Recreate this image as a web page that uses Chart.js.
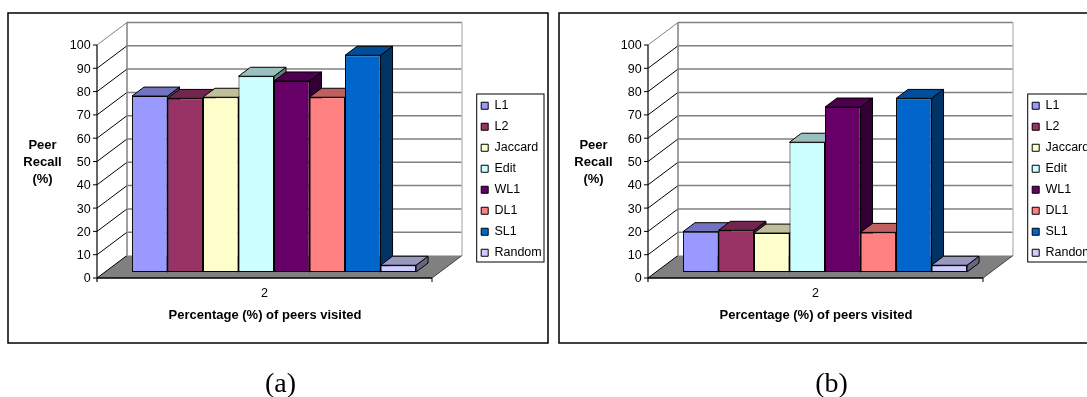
<!DOCTYPE html>
<html>
<head>
<meta charset="utf-8">
<script src="https://cdn.jsdelivr.net/npm/chart.js@4"></script>
<style>
  html, body { margin: 0; padding: 0; background: #fff; overflow: hidden; width: 1087px; height: 397px; }
  canvas { position: absolute; top: 0; }
  #panelA { left: 0; }
  #panelB { left: 551px; }
</style>
</head>
<body>
<canvas id="panelA" width="553" height="397"></canvas>
<canvas id="panelB" width="553" height="397"></canvas>
<script>
// Peer recall per distance measure at 2% of peers visited
const categories = ['2'];
const seriesNames = ['L1', 'L2', 'Jaccard', 'Edit', 'WL1', 'DL1', 'SL1', 'Random'];
const seriesColors = ['#9999FF', '#993366', '#FFFFCC', '#CCFFFF', '#660066', '#FF8080', '#0066CC', '#CCCCFF'];
const recallA = [75.5, 74.5, 75, 84, 82, 75, 93, 2.9];
const recallB = [17.3, 17.9, 16.7, 55.7, 70.8, 17, 74.5, 2.9];
const valueTicksStep = 10;
const xAxisTitle = 'Percentage (%) of peers visited';
const yAxisTitle = ['Peer', 'Recall', '(%)'];

// Oblique projection offsets, relative to the plane of the bar fronts
const FRONT = { dx: -9.5, dy: 6 };
const BACK = { dx: 20.5, dy: -16.5 };
const DEPTH = { dx: 12, dy: -9 };
const FONT = '"Liberation Sans", Arial, sans-serif';

function shade(hex, f) {
  const n = parseInt(hex.slice(1), 16);
  const c = s => Math.round(((n >> s) & 255) * f);
  return `rgb(${c(16)},${c(8)},${c(0)})`;
}

function line(ctx, x1, y1, x2, y2, color, width) {
  ctx.beginPath();
  ctx.moveTo(x1, y1);
  ctx.lineTo(x2, y2);
  ctx.strokeStyle = color;
  ctx.lineWidth = width;
  ctx.stroke();
}

function poly(ctx, pts, fill) {
  ctx.beginPath();
  pts.forEach((p, i) => (i ? ctx.lineTo(p[0], p[1]) : ctx.moveTo(p[0], p[1])));
  ctx.closePath();
  ctx.fillStyle = fill;
  ctx.fill();
  ctx.strokeStyle = '#000';
  ctx.lineWidth = 1;
  ctx.stroke();
}

const box3d = {
  id: 'box3d',
  afterLayout(chart) {
    // Legend sits in the right margin, away from the plot box
    const lg = chart.legend;
    const w = lg.right - lg.left;
    lg.left = 472.7;
    lg.right = lg.left + w;
    lg.top = 91;
    lg.bottom = 300;
  },
  beforeDraw(chart, args, opts) {
    const { ctx } = chart;
    ctx.save();
    ctx.fillStyle = '#fff';
    ctx.fillRect(0, 0, chart.width, chart.height);
    ctx.strokeStyle = '#000';
    ctx.lineWidth = 1.5;
    ctx.strokeRect(8, 13, 540, 330);
    ctx.lineWidth = 1;
    ctx.strokeRect(476.7, 94, 67.3, 168);

    // Axis and caption text
    ctx.fillStyle = '#000';
    ctx.textAlign = 'center';
    ctx.textBaseline = 'middle';
    ctx.font = 'bold 13px ' + FONT;
    ctx.fillText(xAxisTitle, 265, 315.5);
    yAxisTitle.forEach((t, i) => ctx.fillText(t, 42.5, 145.5 + i * 17));
    ctx.font = '28px "Liberation Serif", "Times New Roman", serif';
    ctx.fillText(opts.caption, 280.5, 384.5);
    ctx.restore();
  },
  beforeDatasetsDraw(chart) {
    const { ctx, chartArea: a, scales: { y } } = chart;
    const frontL = a.left + FRONT.dx, frontR = a.right + FRONT.dx;
    const backL = a.left + BACK.dx, backR = a.right + BACK.dx;
    const zero = y.getPixelForValue(0);
    ctx.save();

    // Floor
    ctx.beginPath();
    ctx.moveTo(frontL, zero + FRONT.dy);
    ctx.lineTo(backL, zero + BACK.dy);
    ctx.lineTo(backR, zero + BACK.dy);
    ctx.lineTo(frontR, zero + FRONT.dy);
    ctx.closePath();
    ctx.fillStyle = '#808080';
    ctx.fill();

    // Walls: gridlines on the back, diagonals on the left side
    y.ticks.forEach(t => {
      const py = y.getPixelForValue(t.value);
      const top = t.value === y.max;
      if (t.value > 0) line(ctx, backL, py + BACK.dy, backR, py + BACK.dy, '#808080', 1.5);
      line(ctx, frontL, py + FRONT.dy, backL, py + BACK.dy, top ? '#808080' : '#000', 1);
      line(ctx, frontL - 4, py + FRONT.dy, frontL, py + FRONT.dy, '#000', 1);
    });
    const topPx = y.getPixelForValue(y.max);
    line(ctx, backL, topPx + BACK.dy, backL, zero + BACK.dy, '#808080', 1.5);
    line(ctx, backR, topPx + BACK.dy, backR, zero + BACK.dy, '#C0C0C0', 1.5);

    // Front edges of the box
    line(ctx, frontL, topPx + FRONT.dy, frontL, zero + FRONT.dy + 4, '#000', 1.2);
    line(ctx, frontL, zero + FRONT.dy, frontR, zero + FRONT.dy, '#000', 1.6);
    line(ctx, frontR, zero + FRONT.dy, frontR, zero + FRONT.dy + 4, '#000', 1);
    line(ctx, frontR, zero + FRONT.dy, backR, zero + BACK.dy, '#404040', 1);

    // Side and top faces, left to right; front faces are the chart's own bars
    chart.data.datasets.forEach((ds, i) => {
      const bar = chart.getDatasetMeta(i).data[0];
      const L = bar.x - bar.width / 2, R = bar.x + bar.width / 2;
      const { dx, dy } = DEPTH;
      poly(ctx, [[R, bar.y], [R + dx, bar.y + dy], [R + dx, bar.base + dy], [R, bar.base]], shade(ds.backgroundColor, 0.5));
      poly(ctx, [[L, bar.y], [L + dx, bar.y + dy], [R + dx, bar.y + dy], [R, bar.y]], shade(ds.backgroundColor, 0.75));
    });
    ctx.restore();
  }
};

function recallChart(canvasId, values, caption) {
  return new Chart(document.getElementById(canvasId), {
    type: 'bar',
    data: {
      labels: categories,
      datasets: seriesNames.map((name, i) => ({
        label: name,
        data: [values[i]],
        backgroundColor: seriesColors[i],
        borderColor: '#000',
        borderWidth: 1,
        borderSkipped: false,
        barPercentage: 1,
        categoryPercentage: 0.848
      }))
    },
    options: {
      responsive: false,
      animation: false,
      devicePixelRatio: 1,
      layout: { padding: { left: 0, top: 39, right: 32.5, bottom: 65 } },
      scales: {
        x: {
          grid: { display: false, drawTicks: false },
          border: { display: false },
          ticks: { color: '#000', padding: 14, labelOffset: -9.5, font: { family: FONT, size: 12.5 } },
          afterFit(scale) { scale.height = 60; }
        },
        y: {
          min: 0,
          max: 100,
          grid: { display: false, drawTicks: false },
          border: { display: false },
          ticks: { color: '#000', stepSize: valueTicksStep, padding: 15.8, labelOffset: 7, font: { family: FONT, size: 12.5 } },
          afterFit(scale) { scale.width = 106.5; }
        }
      },
      plugins: {
        tooltip: { enabled: false },
        box3d: { caption },
        legend: {
          position: 'right',
          align: 'start',
          labels: {
            color: '#000',
            boxWidth: 7,
            boxHeight: 7,
            padding: 8.5,
            font: { family: FONT, size: 12.5 }
          }
        }
      }
    },
    plugins: [box3d]
  });
}

recallChart('panelA', recallA, '(a)');
recallChart('panelB', recallB, '(b)');
</script>
</body>
</html>
